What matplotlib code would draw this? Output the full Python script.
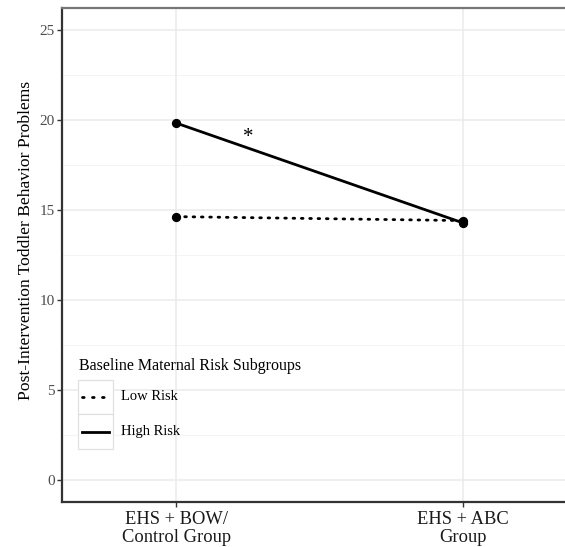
import matplotlib
matplotlib.use("Agg")
import matplotlib.pyplot as plt
from matplotlib.lines import Line2D
from matplotlib.patches import Rectangle

categories = ["EHS + BOW/\nControl Group", "EHS + ABC\nGroup"]
low_risk = [14.62, 14.40]
high_risk = [19.82, 14.27]
series_labels = ["Low Risk", "High Risk"]
legend_title = "Baseline Maternal Risk Subgroups"
y_label = "Post-Intervention Toddler Behavior Problems"
y_ticks = [0, 5, 10, 15, 20, 25]
star_pos = (1.25, 19.0)

plt.rcParams['font.family'] = ['Liberation Serif', 'DejaVu Serif']

W, H = 565, 547
fig = plt.figure(figsize=(W / 100, H / 100), dpi=100)
left, right, top, bottom = 62.3, 577.7, 7.5, 502.0
ax = fig.add_axes([left / W, 1 - bottom / H, (right - left) / W, (bottom - top) / H])

xs = [1, 2]
ax.set_xlim(0.602, 2.4)
ax.set_ylim(-1.25, 26.25)

# grid
for v in [2.5, 7.5, 12.5, 17.5, 22.5]:
    ax.axhline(v, color="#F2F2F2", lw=0.6, zorder=0)
for v in y_ticks:
    ax.axhline(v, color="#EBEBEB", lw=1.1, zorder=0)
for v in xs:
    ax.axvline(v, color="#EBEBEB", lw=1.1, zorder=0)

dot_style = dict(linestyle=(0, (0.6, 2.4)), dash_capstyle="round")
ax.plot(xs, low_risk, color="black", lw=2.0, zorder=3, **dot_style)
ax.plot(xs, high_risk, color="black", lw=2.0, zorder=3)
ax.scatter(xs, low_risk, s=32, color="black", zorder=4)
ax.scatter(xs, high_risk, s=32, color="black", zorder=4)

ax.text(star_pos[0], star_pos[1], "*", ha="center", va="center", fontsize=15, color="black")

ax.set_xticks(xs)
ax.set_xticklabels(categories, fontsize=13.3, color="#1A1A1A", linespacing=1.1)
ax.set_yticks(y_ticks)
ax.set_yticklabels([str(v) for v in y_ticks], fontsize=11, color="#4D4D4D")
ax.tick_params(axis="both", length=3.5, width=1.0, color="#333333", pad=2)
ax.tick_params(axis="x", pad=3)
ax.set_ylabel(y_label, fontsize=12.6, color="black")
ax.yaxis.set_label_coords(-0.055, 0.528)

for s in ["left", "bottom"]:
    ax.spines[s].set_color("#333333")
    ax.spines[s].set_linewidth(1.6)
ax.spines["top"].set_color("#777777")
ax.spines["top"].set_linewidth(1.6)
ax.spines["right"].set_visible(False)

# legend drawn manually in pixel coordinates
def px(x, y):
    return (x / W, 1 - y / H)

fig.text(*px(79, 366), legend_title, fontsize=11.5, va="center", ha="left")
kx0, kx1 = 78, 112.7
rows = [(380, 414), (414, 449)]
styles = [dict(linestyle=(0, (0.6, 3.0)), dash_capstyle="round"), dict(linestyle="-")]
for (y0, y1), st, lab in zip(rows, styles, series_labels):
    r = Rectangle(px(kx0, y1), (kx1 - kx0) / W, (y1 - y0) / H, transform=fig.transFigure,
                  facecolor="white", edgecolor="#E0E0E0", lw=0.9, zorder=5)
    fig.add_artist(r)
    ym = (y0 + y1) / 2
    l = Line2D([(kx0 + 4) / W, (kx1 - 4) / W], [1 - ym / H, 1 - ym / H],
               transform=fig.transFigure, color="black", lw=2.0, zorder=6, **st)
    fig.add_artist(l)
    fig.text(*px(121, ym), lab, fontsize=10.5, va="center", ha="left", zorder=6)

fig.savefig("out.png", dpi=100)
